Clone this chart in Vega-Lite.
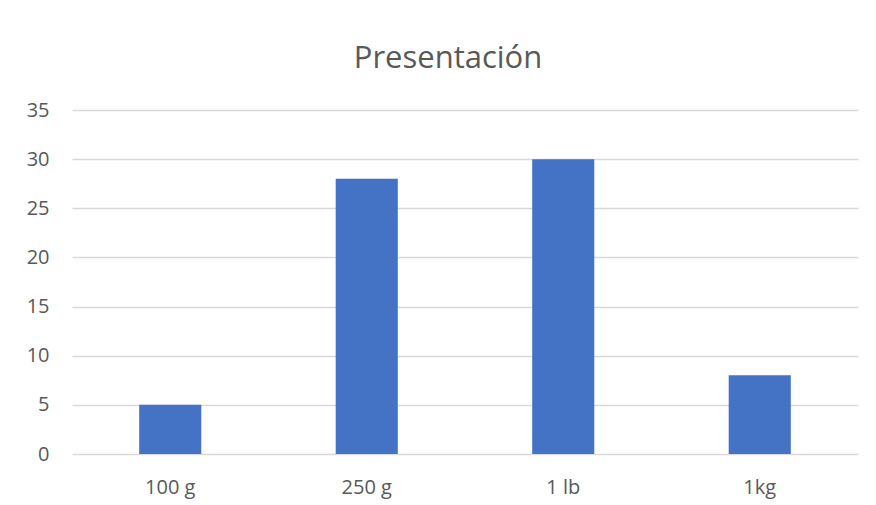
{
  "$schema": "https://vega.github.io/schema/vega-lite/v6.json",
  "autosize": {"type": "none"},
  "width": 786,
  "height": 344,
  "padding": {"left": 72, "top": 110, "right": 18, "bottom": 51},
  "background": "white",
  "title": {
    "text": "Presentación",
    "font": "Open Sans",
    "fontSize": 31,
    "fontWeight": "normal",
    "color": "#595959",
    "anchor": "middle",
    "dx": -17,
    "offset": 25
  },
  "data": {
    "values": [
      {"presentacion": "100 g", "valor": 5},
      {"presentacion": "250 g", "valor": 28},
      {"presentacion": "1 lb", "valor": 30},
      {"presentacion": "1kg", "valor": 8}
    ]
  },
  "mark": {"type": "bar", "color": "#4472c4"},
  "encoding": {
    "x": {
      "field": "presentacion",
      "type": "nominal",
      "sort": null,
      "scale": {"paddingInner": 0.684, "paddingOuter": 0.342},
      "axis": {
        "title": null,
        "labelAngle": 0,
        "domain": false,
        "ticks": false,
        "tickSize": 0,
        "labelPadding": 23,
        "labelFont": "Open Sans",
        "labelFontSize": 20,
        "labelColor": "#595959",
        "grid": false
      }
    },
    "y": {
      "field": "valor",
      "type": "quantitative",
      "scale": {"domain": [0, 35], "nice": false},
      "axis": {
        "title": null,
        "values": [0, 5, 10, 15, 20, 25, 30, 35],
        "domain": false,
        "ticks": false,
        "tickSize": 0,
        "labelPadding": 23,
        "labelFont": "Open Sans",
        "labelFontSize": 20,
        "labelColor": "#595959",
        "grid": true,
        "gridColor": "#d9d9d9",
        "gridWidth": 1.3
      }
    }
  },
  "config": {"view": {"stroke": null}}
}
